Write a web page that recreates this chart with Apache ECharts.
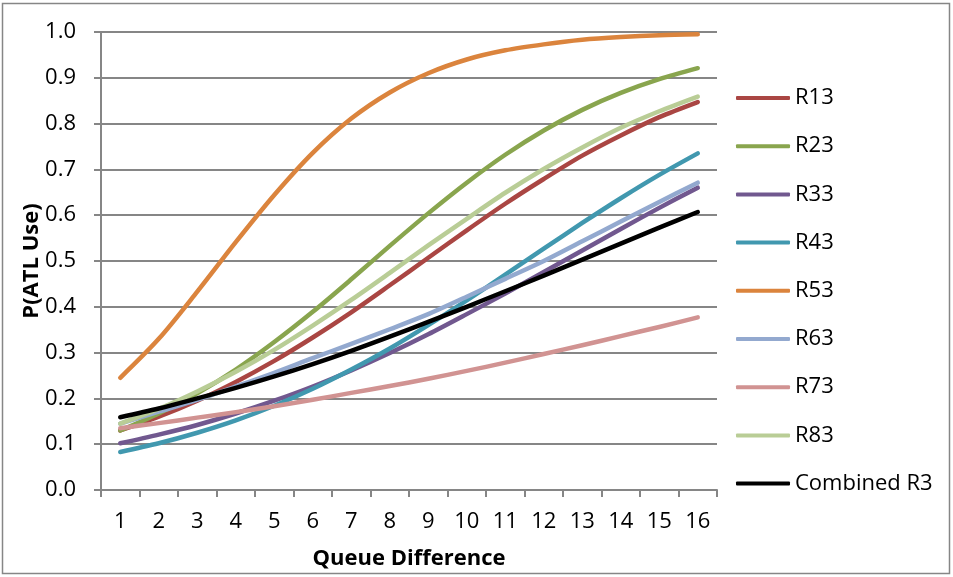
<!DOCTYPE html>
<html>
<head>
<meta charset="utf-8">
<script src="https://cdn.jsdelivr.net/npm/echarts@6/dist/echarts.min.js"></script>
<style>
  html, body { margin: 0; padding: 0; background: #fff; }
  #chart { width: 953px; height: 577px; }
</style>
</head>
<body>
<div id="chart"></div>
<script>
// Queue difference categories and the probability of ATL use for each route
const queueDiff = ['1','2','3','4','5','6','7','8','9','10','11','12','13','14','15','16'];
const yTicks = [0, 0.1, 0.2, 0.3, 0.4, 0.5, 0.6, 0.7, 0.8, 0.9, 1.0];

const r13 = [0.130,0.160,0.195,0.236,0.282,0.333,0.388,0.447,0.507,0.567,0.625,0.679,0.730,0.774,0.814,0.847];
const r23 = [0.130,0.167,0.211,0.263,0.323,0.389,0.460,0.533,0.604,0.671,0.732,0.785,0.830,0.867,0.897,0.921];
const r33 = [0.102,0.121,0.142,0.167,0.195,0.226,0.261,0.299,0.340,0.384,0.429,0.476,0.523,0.570,0.616,0.660];
const r43 = [0.083,0.102,0.125,0.152,0.184,0.221,0.263,0.309,0.360,0.414,0.470,0.527,0.583,0.637,0.688,0.735];
const r53 = [0.245,0.330,0.433,0.541,0.644,0.736,0.811,0.868,0.910,0.940,0.960,0.973,0.983,0.989,0.993,0.995];
const r63 = [0.145,0.171,0.197,0.226,0.256,0.288,0.319,0.351,0.384,0.422,0.461,0.500,0.543,0.586,0.629,0.671];
const r73 = [0.135,0.146,0.158,0.170,0.183,0.197,0.212,0.227,0.243,0.260,0.278,0.297,0.316,0.336,0.356,0.377];
const r83 = [0.145,0.177,0.215,0.258,0.306,0.359,0.415,0.474,0.534,0.592,0.649,0.701,0.748,0.791,0.827,0.859];
const combinedR3 = [0.159,0.178,0.200,0.223,0.248,0.275,0.304,0.335,0.367,0.400,0.434,0.468,0.503,0.538,0.573,0.607];

const seriesDefs = [
  { name: 'R13', data: r13, color: '#AA4643' },
  { name: 'R23', data: r23, color: '#89A54E' },
  { name: 'R33', data: r33, color: '#71588F' },
  { name: 'R43', data: r43, color: '#4198AF' },
  { name: 'R53', data: r53, color: '#DB843D' },
  { name: 'R63', data: r63, color: '#93A9CF' },
  { name: 'R73', data: r73, color: '#D19392' },
  { name: 'R83', data: r83, color: '#B9CD96' },
  { name: 'Combined R3', data: combinedR3, color: '#000000' }
];

const FONT = 'Open Sans, Liberation Sans, sans-serif';
const AXIS_GRAY = '#868686';
const FS = 22;

const chart = echarts.init(document.getElementById('chart'), null, { renderer: 'canvas' });

chart.setOption({
  animation: false,
  backgroundColor: '#fff',
  textStyle: { fontFamily: FONT },
  graphic: [{
    type: 'rect',
    shape: { x: 2.5, y: 3.5, width: 947, height: 570 },
    style: { fill: 'none', stroke: AXIS_GRAY, lineWidth: 1.5 },
    silent: true,
    z: -1
  }],
  grid: { left: 101, top: 32, width: 616, height: 458, containLabel: false },
  legend: {
    orient: 'vertical',
    left: 731,
    top: 81,
    itemWidth: 54,
    itemHeight: 4,
    itemGap: 24.2,
    icon: 'roundRect',
    textStyle: { fontFamily: FONT, fontSize: FS, color: '#000', lineHeight: 24 },
    data: seriesDefs.map(s => ({ name: s.name, itemStyle: { color: s.color } }))
  },
  xAxis: {
    type: 'category',
    data: queueDiff,
    boundaryGap: true,
    name: 'Queue Difference',
    nameLocation: 'middle',
    nameGap: 58,
    nameMoveOverlap: false,
    nameTextStyle: { fontFamily: FONT, fontSize: FS, fontWeight: 'bold', color: '#000' },
    axisLine: { lineStyle: { color: AXIS_GRAY, width: 2 } },
    axisTick: { show: true, alignWithLabel: false, length: 7, lineStyle: { color: AXIS_GRAY, width: 2 } },
    axisLabel: { fontFamily: FONT, fontSize: FS, color: '#000', margin: 21 },
    splitLine: { show: false }
  },
  yAxis: {
    type: 'value',
    min: yTicks[0],
    max: yTicks[yTicks.length - 1],
    interval: 0.1,
    name: 'P(ATL Use)',
    nameLocation: 'middle',
    nameGap: 58,
    nameMoveOverlap: false,
    nameRotate: 90,
    nameTextStyle: { fontFamily: FONT, fontSize: FS, fontWeight: 'bold', color: '#000' },
    axisLine: { show: true, lineStyle: { color: AXIS_GRAY, width: 2 } },
    axisTick: { show: true, length: 7, lineStyle: { color: AXIS_GRAY, width: 2 } },
    axisLabel: { fontFamily: FONT, fontSize: FS, color: '#000', margin: 25, formatter: v => v.toFixed(1) },
    splitLine: { show: true, lineStyle: { color: AXIS_GRAY, width: 2 } }
  },
  series: seriesDefs.map(s => ({
    name: s.name,
    type: 'line',
    data: s.data,
    smooth: 0.3,
    showSymbol: false,
    symbol: 'none',
    lineStyle: { color: s.color, width: 4.5, cap: 'round', join: 'round' },
    itemStyle: { color: s.color }
  }))
});
</script>
</body>
</html>
